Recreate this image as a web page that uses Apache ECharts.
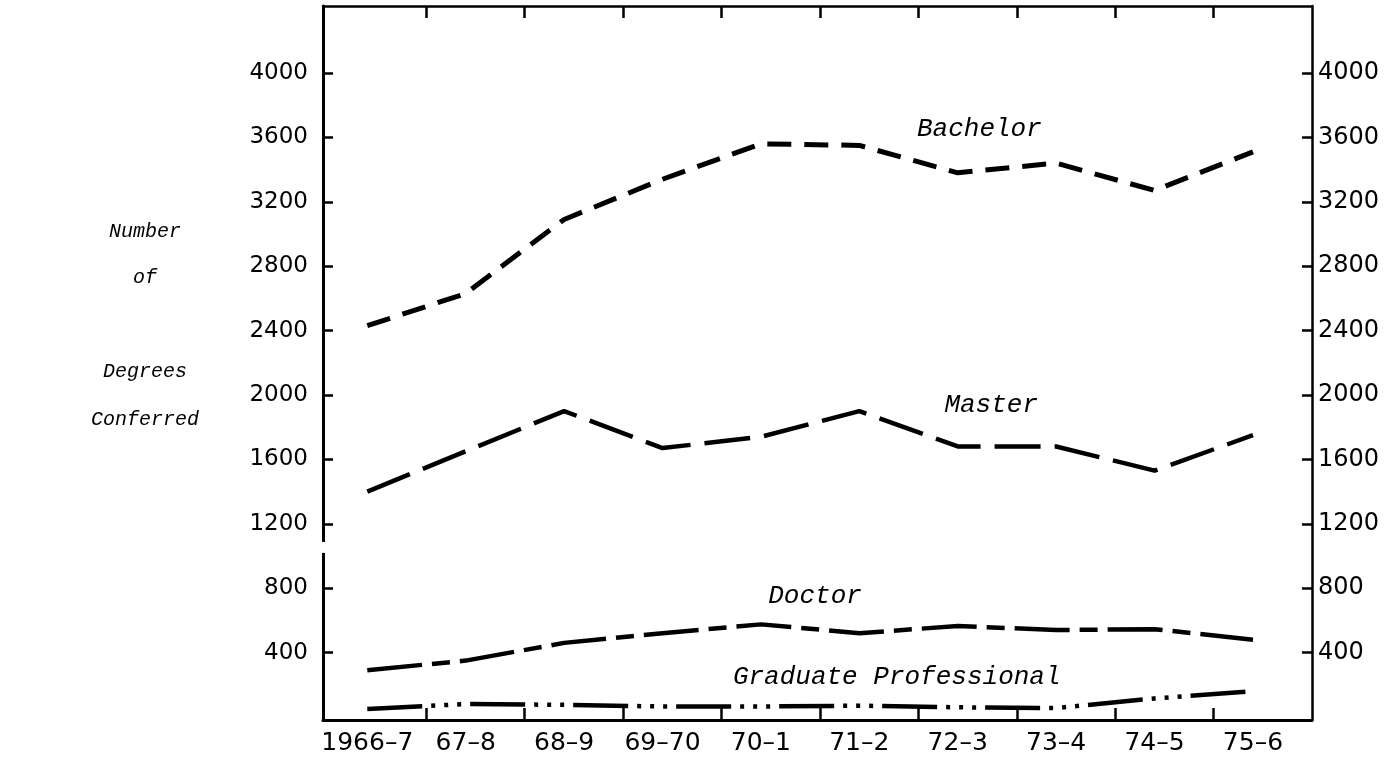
<!DOCTYPE html>
<html><head><meta charset="utf-8">
<script src="https://cdn.jsdelivr.net/npm/echarts@6/dist/echarts.min.js"></script>
<style>html,body{margin:0;padding:0;background:#fff}#c{width:1396px;height:757px}</style>
</head><body><div id="c"></div>
<script>
const categories = ['1966\u20137','67\u20138','68\u20139','69\u201370','70\u20131','71\u20132','72\u20133','73\u20134','74\u20135','75\u20136'];
const bachelor = [2430, 2630, 3090, 3340, 3560, 3550, 3380, 3440, 3270, 3510];
const master   = [1400, 1650, 1900, 1670, 1740, 1900, 1680, 1680, 1530, 1750];
const doctor   = [290, 350, 460, 520, 575, 520, 565, 540, 545, 480];
const gradProf = [50, 80, 75, 65, 65, 70, 60, 55, 115, 160];
const yTicks = [400, 800, 1200, 1600, 2000, 2400, 2800, 3200, 3600, 4000];
const seriesNames = ['Bachelor', 'Master', 'Doctor', 'Graduate Professional'];
const yTitleLines = ['Number', 'of', 'Degrees', 'Conferred'];

const xTickPos = categories.slice(0, -1).map((c, i) => i + 0.6);
const xLabelPos = categories.map((c, i) => i);

function toPairs(arr) { return arr.map((v, i) => [i, v]); }

const chart = echarts.init(document.getElementById('c'), null, {renderer: 'canvas'});

function annot(coord, text) {
  return {
    symbol: 'circle', symbolSize: 0, silent: true,
    data: [{coord: coord, label: {show: true, position: 'inside', formatter: text,
      fontFamily: 'Liberation Mono', fontStyle: 'italic', fontSize: 26, color: '#000'}}]
  };
}

const Y_MIN = -19, Y_MAX = 4416;
const tickStyle = {color: '#000', width: 2.5};
const option = {
  backgroundColor: '#fff',
  animation: false,
  grid: {left: 323, right: 84, top: 6, bottom: 37, containLabel: false},
  xAxis: [{
    type: 'value', position: 'bottom', min: -0.45, max: 9.6,
    axisLine: {show: true, onZero: false, lineStyle: {color: '#000', width: 3}},
    axisTick: {show: true, inside: true, length: 12, customValues: xTickPos, lineStyle: tickStyle},
    axisLabel: {show: true, customValues: xLabelPos, margin: 11, color: '#000', fontFamily: 'DejaVu Sans', fontSize: 25,
      formatter: v => categories[Math.round(v)]},
    splitLine: {show: false}
  }, {
    type: 'value', position: 'top', min: -0.45, max: 9.6,
    axisLine: {show: true, onZero: false, lineStyle: {color: '#000', width: 2.5}},
    axisTick: {show: true, inside: true, length: 12, customValues: xTickPos, lineStyle: tickStyle},
    axisLabel: {show: false},
    splitLine: {show: false}
  }],
  yAxis: [{
    type: 'value', position: 'left', min: Y_MIN, max: Y_MAX,
    axisLine: {show: true, onZero: false, lineStyle: {color: '#000', width: 3}},
    axisTick: {show: true, inside: true, length: 10, customValues: yTicks, lineStyle: tickStyle},
    axisLabel: {show: true, customValues: yTicks, margin: 15, color: '#000', fontFamily: 'DejaVu Sans', fontSize: 23,
      formatter: v => String(v)},
    splitLine: {show: false}
  }, {
    type: 'value', position: 'right', min: Y_MIN, max: Y_MAX,
    axisLine: {show: true, onZero: false, lineStyle: {color: '#000', width: 2.5}},
    axisTick: {show: true, inside: true, length: 10, customValues: yTicks, lineStyle: tickStyle},
    axisLabel: {show: true, customValues: yTicks, margin: 6, color: '#000', fontFamily: 'DejaVu Sans', fontSize: 24,
      formatter: v => String(v)},
    splitLine: {show: false}
  }],
  series: [{
    name: seriesNames[0], type: 'line', data: toPairs(bachelor), showSymbol: false, silent: true,
    lineStyle: {color: '#000', width: 5, type: [24, 13], cap: 'butt'},
    markPoint: annot([6.22, 3650], seriesNames[0])
  }, {
    name: seriesNames[1], type: 'line', data: toPairs(master), showSymbol: false, silent: true,
    lineStyle: {color: '#000', width: 4.5, type: [46, 14], cap: 'butt'},
    markPoint: annot([6.34, 1940], seriesNames[1])
  }, {
    name: seriesNames[2], type: 'line', data: toPairs(doctor), showSymbol: false, silent: true,
    lineStyle: {color: '#000', width: 4.5, type: [55, 10, 18, 10], cap: 'butt'},
    markPoint: annot([4.55, 750], seriesNames[2])
  }, {
    name: seriesNames[3], type: 'line', data: toPairs(gradProf), showSymbol: false, silent: true,
    lineStyle: {color: '#000', width: 4.5, type: [55, 9, 4, 9, 4, 9, 4, 9], cap: 'butt'},
    markPoint: annot([5.38, 248], seriesNames[3])
  }]
};
chart.setOption(option);

const xLeft = chart.convertToPixel({xAxisIndex: 0}, -0.45);
const gapY = chart.convertToPixel({yAxisIndex: 0}, 1050);
const titleYs = [232, 278, 372, 420];
const graphics = [{type: 'rect', z: 100, shape: {x: xLeft - 4, y: gapY - 6, width: 8, height: 11}, style: {fill: '#fff'}}];
yTitleLines.forEach((t, i) => {
  graphics.push({type: 'text', z: 100, x: 145, y: titleYs[i],
    style: {text: t, align: 'center', verticalAlign: 'middle', font: 'italic 20px "Liberation Mono"', fill: '#000'}});
});
chart.setOption({graphic: graphics});
</script>
</body></html>
